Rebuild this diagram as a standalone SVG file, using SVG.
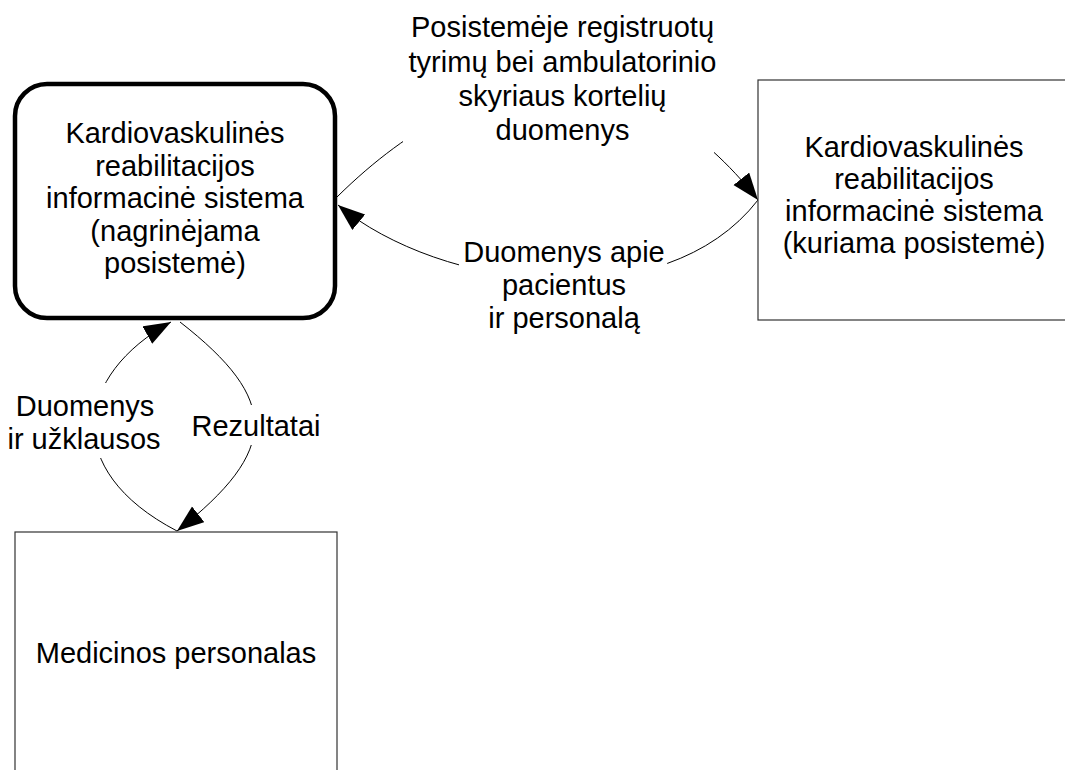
<svg xmlns="http://www.w3.org/2000/svg" width="1065" height="770" viewBox="0 0 1065 770">
  <style>
    .lbl { font-family: "Liberation Sans", Arial, sans-serif; font-size: 29px; fill: #000; text-anchor: middle; }
    .box { fill: #fff; stroke: #333; stroke-width: 1.2; }
    .main { fill: #fff; stroke: #000; stroke-width: 4.5; }
    .flow { fill: none; stroke: #000; stroke-width: 1; }
    .bg { fill: #fff; stroke: none; }
  </style>
  <defs>
    <marker id="arrow" markerUnits="userSpaceOnUse" markerWidth="30" markerHeight="22" refX="27" refY="10" orient="auto">
      <path d="M0,0 L27,10 L0,20 z" fill="#000"/>
    </marker>
  </defs>
  <rect width="1065" height="770" fill="#fff"/>

  <!-- connectors -->
  <g id="connectors">
    <path class="flow" d="M337,197 C487,49 640,50 758,200" marker-end="url(#arrow)"/>
    <path class="flow" d="M758,200 C665,320 440,290 338,205" marker-end="url(#arrow)"/>
    <path class="flow" d="M177,531 C60,470 75,375 171,322" marker-end="url(#arrow)"/>
    <path class="flow" d="M180,322 C280,400 280,450 177,531" marker-end="url(#arrow)"/>
  </g>

  <!-- connector labels -->
  <g id="label-top">
    <rect class="bg" x="403" y="5" width="311" height="150"/>
    <text class="lbl" x="562.5" y="37">Posistemėje registruotų</text>
    <text class="lbl" x="562.5" y="71.5">tyrimų bei ambulatorinio</text>
    <text class="lbl" x="562.5" y="106">skyriaus kortelių</text>
    <text class="lbl" x="562.5" y="140">duomenys</text>
  </g>
  <g id="label-middle">
    <rect class="bg" x="459" y="235" width="208" height="105"/>
    <text class="lbl" x="564" y="262">Duomenys apie</text>
    <text class="lbl" x="564" y="295">pacientus</text>
    <text class="lbl" x="564" y="328">ir personalą</text>
  </g>
  <g id="label-left">
    <rect class="bg" x="4" y="383" width="160" height="75"/>
    <text class="lbl" x="85" y="416">Duomenys</text>
    <text class="lbl" x="84" y="449">ir užklausos</text>
  </g>
  <g id="label-right">
    <rect class="bg" x="190" y="405" width="132" height="40"/>
    <text class="lbl" x="256" y="436">Rezultatai</text>
  </g>

  <!-- nodes -->
  <g id="node-main">
    <rect class="main" x="15" y="84" width="320" height="234" rx="32" ry="32"/>
    <text class="lbl" x="175" y="143">Kardiovaskulinės</text>
    <text class="lbl" x="175" y="175.5">reabilitacijos</text>
    <text class="lbl" x="175" y="208">informacinė sistema</text>
    <text class="lbl" x="175" y="240.5">(nagrinėjama</text>
    <text class="lbl" x="175" y="273">posistemė)</text>
  </g>
  <g id="node-new">
    <rect class="box" x="758" y="80" width="320" height="240"/>
    <text class="lbl" x="914" y="157">Kardiovaskulinės</text>
    <text class="lbl" x="914" y="189">reabilitacijos</text>
    <text class="lbl" x="914" y="220.5">informacinė sistema</text>
    <text class="lbl" x="914" y="252.5">(kuriama posistemė)</text>
  </g>
  <g id="node-staff">
    <rect class="box" x="15" y="532" width="322" height="260"/>
    <text class="lbl" x="176" y="663">Medicinos personalas</text>
  </g>
</svg>
